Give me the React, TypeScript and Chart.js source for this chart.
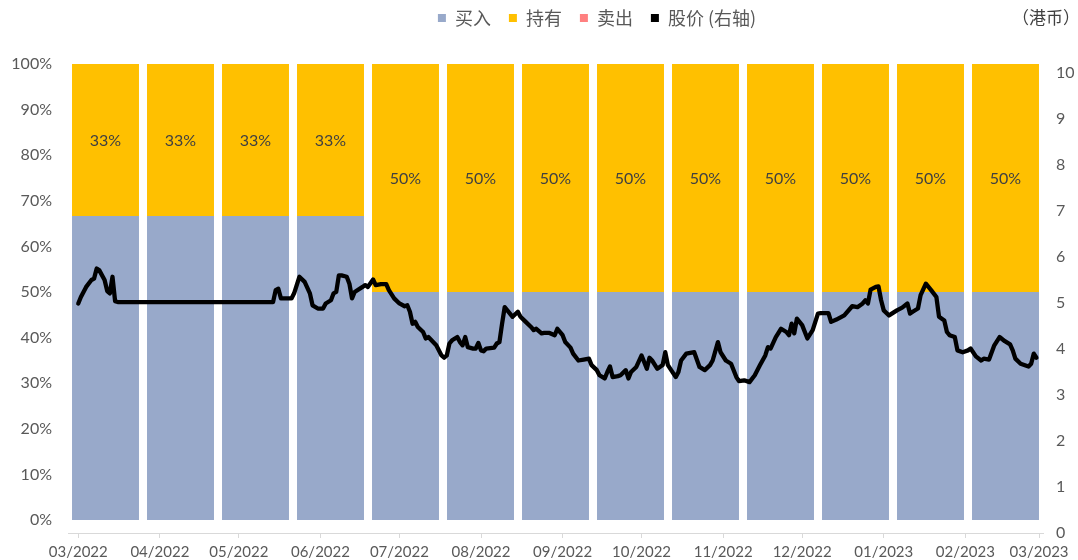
import React, { useEffect, useRef } from 'react';
import { Chart, registerables } from 'chart.js';

Chart.register(...registerables);

// ---- data ----
const barCategories = ['03/2022', '04/2022', '05/2022', '06/2022', '07/2022', '08/2022', '09/2022', '10/2022', '11/2022', '12/2022', '01/2023', '02/2023', '03/2023'];
const buyPct = [66.67, 66.67, 66.67, 66.67, 50, 50, 50, 50, 50, 50, 50, 50, 50];
const holdPct = [33.33, 33.33, 33.33, 33.33, 50, 50, 50, 50, 50, 50, 50, 50, 50];
const sellPct = [0, 0, 0, 0, 0, 0, 0, 0, 0, 0, 0, 0, 0];

// days since 2022-03-01 at which the month ticks sit
const monthTickDays = [0, 31, 61, 92, 122, 153, 184, 214, 245, 275, 306, 337, 365];
const monthTickLabels = ['03/2022', '04/2022', '05/2022', '06/2022', '07/2022', '08/2022', '09/2022', '10/2022', '11/2022', '12/2022', '01/2023', '02/2023', '03/2023'];

const leftTicks = [0, 10, 20, 30, 40, 50, 60, 70, 80, 90, 100];
const rightTicks = [0, 1, 2, 3, 4, 5, 6, 7, 8, 9, 10];

// share price (HKD), days since 2022-03-01
const priceDays = [0, 1, 3, 5, 6, 7, 8, 10, 11, 12, 13, 14, 15, 74, 75, 76, 77, 81, 82, 84, 86, 88, 89, 91, 93, 94, 96, 97, 98, 99, 100, 102, 103, 104, 105, 108, 109, 110, 112, 113, 115, 117, 118, 120, 122, 124, 125, 126, 127, 128, 129, 131, 132, 133, 136, 138, 139, 140, 141, 142, 144, 145, 146, 147, 148, 150, 151, 152, 153, 154, 155, 158, 159, 160, 161, 162, 163, 165, 167, 168, 170, 172, 173, 174, 176, 177, 179, 181, 182, 184, 185, 187, 188, 190, 192, 194, 195, 197, 198, 200, 201, 202, 203, 205, 206, 208, 209, 210, 212, 214, 216, 217, 218, 220, 222, 223, 224, 227, 228, 229, 231, 234, 236, 238, 240, 241, 243, 244, 246, 248, 250, 251, 253, 255, 257, 259, 261, 262, 263, 265, 267, 269, 270, 271, 272, 273, 275, 277, 279, 281, 282, 285, 286, 288, 291, 294, 296, 298, 299, 300, 301, 303, 304, 305, 306, 308, 311, 313, 315, 316, 317, 319, 320, 322, 324, 326, 327, 329, 330, 331, 333, 334, 336, 338, 339, 341, 343, 344, 346, 348, 350, 352, 354, 355, 356, 358, 361, 362, 363, 364];
const priceValues = [4.99, 5.13, 5.35, 5.50, 5.53, 5.75, 5.71, 5.50, 5.26, 5.21, 5.57, 5.04, 5.02, 5.02, 5.28, 5.31, 5.10, 5.10, 5.21, 5.57, 5.46, 5.21, 4.95, 4.88, 4.88, 4.99, 5.06, 5.21, 5.24, 5.60, 5.60, 5.57, 5.42, 5.10, 5.24, 5.35, 5.39, 5.35, 5.51, 5.39, 5.41, 5.41, 5.28, 5.10, 4.99, 4.93, 4.95, 4.81, 4.55, 4.59, 4.48, 4.37, 4.23, 4.26, 4.08, 3.86, 3.81, 3.86, 4.12, 4.19, 4.26, 4.15, 4.08, 4.26, 4.04, 4.01, 4.01, 4.13, 3.97, 3.95, 4.01, 4.03, 4.12, 4.15, 4.55, 4.91, 4.84, 4.70, 4.81, 4.70, 4.59, 4.48, 4.41, 4.44, 4.34, 4.35, 4.35, 4.30, 4.44, 4.30, 4.15, 4.03, 3.90, 3.75, 3.77, 3.79, 3.65, 3.54, 3.43, 3.36, 3.50, 3.62, 3.39, 3.41, 3.43, 3.54, 3.36, 3.50, 3.61, 3.86, 3.57, 3.81, 3.75, 3.57, 3.65, 3.93, 3.65, 3.39, 3.50, 3.75, 3.90, 3.93, 3.61, 3.54, 3.65, 3.75, 4.15, 3.93, 3.75, 3.68, 3.39, 3.30, 3.32, 3.28, 3.43, 3.65, 3.86, 4.04, 4.01, 4.26, 4.44, 4.37, 4.30, 4.55, 4.34, 4.66, 4.52, 4.23, 4.41, 4.77, 4.78, 4.78, 4.59, 4.64, 4.73, 4.93, 4.91, 4.99, 5.06, 4.99, 5.29, 5.35, 5.36, 5.06, 4.84, 4.73, 4.84, 4.90, 4.99, 4.77, 4.81, 4.88, 5.17, 5.42, 5.28, 5.13, 4.70, 4.62, 4.37, 4.30, 4.26, 3.97, 3.93, 3.97, 4.01, 3.84, 3.75, 3.79, 3.77, 4.08, 4.26, 4.17, 4.10, 3.97, 3.79, 3.68, 3.62, 3.68, 3.90, 3.81];

const LATIN = 'Lato, "Liberation Sans", sans-serif';
const CJK = '"Noto Sans CJK SC", sans-serif';
const AXIS_COLOR = '#595959';

export default function App() {
  const canvasRef = useRef<HTMLCanvasElement | null>(null);

  useEffect(() => {
    document.body.style.margin = '0';
    const canvas = canvasRef.current;
    if (!canvas) return;

    const legendShift = {
      id: 'legendShift',
      beforeDraw(chart: any) {
        const lg = chart.legend;
        if (lg) {
          lg.left = 58;
          lg.right = 1078 + 58;
          lg.top = -9;
        }
      },
    };

    const holdLabels = {
      id: 'holdLabels',
      afterDatasetsDraw(chart: any) {
        const meta = chart.getDatasetMeta(1);
        const c = chart.ctx;
        c.save();
        c.font = `16px ${LATIN}`;
        c.fillStyle = '#404040';
        c.textAlign = 'center';
        c.textBaseline = 'middle';
        meta.data.forEach((el: any, i: number) => {
          const p = el.getProps(['x', 'y', 'base'], true);
          c.fillText(`${Math.round(holdPct[i])}%`, p.x, (p.y + p.base) / 2 + 1);
        });
        c.restore();
      },
    };

    const unitLabel = {
      id: 'unitLabel',
      afterDraw(chart: any) {
        const c = chart.ctx;
        c.save();
        c.font = `17px ${CJK}`;
        c.fillStyle = '#404040';
        c.textAlign = 'right';
        c.textBaseline = 'middle';
        c.fillText('（港币）', 1080, 18);
        c.restore();
      },
    };

    const barCommon = {
      type: 'bar', borderWidth: 0, xAxisID: 'xb', yAxisID: 'y', stack: 's',
      grouped: false, barPercentage: 0.893, categoryPercentage: 1, order: 1,
    };

    const chart = new Chart(canvas, {
      type: 'bar',
      data: {
        labels: barCategories,
        datasets: [
          { ...barCommon, label: '买入', data: buyPct, backgroundColor: '#98A9CA' } as any,
          { ...barCommon, label: '持有', data: holdPct, backgroundColor: '#FFC000' } as any,
          { ...barCommon, label: '卖出', data: sellPct, backgroundColor: '#FF8080' } as any,
          {
            type: 'line', label: '股价 (右轴)',
            data: priceDays.map((d, i) => ({ x: d, y: priceValues[i] })),
            xAxisID: 'x', yAxisID: 'y1',
            borderColor: '#000000', backgroundColor: '#000000', borderWidth: 4.3,
            pointRadius: 0, tension: 0, fill: false,
            borderJoinStyle: 'round', borderCapStyle: 'round', order: 0,
          } as any,
        ],
      },
      options: {
        animation: false,
        responsive: false,
        maintainAspectRatio: false,
        layout: { padding: { top: 18, left: 0, right: 0, bottom: 0 } },
        plugins: {
          tooltip: { enabled: false },
          legend: {
            position: 'top',
            maxHeight: 46,
            labels: {
              boxWidth: 8,
              boxHeight: 8,
              padding: 18,
              color: AXIS_COLOR,
              font: { family: CJK, size: 18 },
              sort: (a: any, b: any) => a.datasetIndex - b.datasetIndex,
              generateLabels: (ch: any) =>
                (Chart.defaults.plugins.legend.labels as any).generateLabels(ch).map((it: any) => ({ ...it, lineWidth: 0, strokeStyle: it.fillStyle })),
            },
          } as any,
        },
        scales: {
          xb: { type: 'category', display: false, stacked: true, offset: true, grid: { display: false, offset: true } },
          x: {
            type: 'linear', position: 'bottom', min: -3.9, max: 366.5, offset: false,
            afterBuildTicks: (s: any) => { s.ticks = monthTickDays.map((v) => ({ value: v })); },
            afterFit: (s: any) => { s.height = 27; },
            ticks: {
              autoSkip: false, maxRotation: 0, minRotation: 0, color: AXIS_COLOR, padding: 5,
              font: { family: LATIN, size: 15 },
              callback: (_v: any, i: number) => monthTickLabels[i] ?? '',
            },
            grid: { offset: false, drawOnChartArea: false, drawTicks: true, tickLength: 5, color: '#D9D9D9' },
            border: { display: true, color: '#D9D9D9', width: 1 },
          },
          y: {
            type: 'linear', position: 'left', stacked: true, min: -2.85, max: 100,
            afterBuildTicks: (s: any) => { s.ticks = leftTicks.map((v) => ({ value: v })); },
            afterFit: (s: any) => { s.width = 68; },
            ticks: { color: AXIS_COLOR, padding: 16, font: { family: LATIN, size: 16 }, callback: (v: any) => `${v}%` },
            grid: { display: false, drawTicks: false },
            border: { display: false },
          },
          y1: {
            type: 'linear', position: 'right', min: 0, max: 10.196,
            afterBuildTicks: (s: any) => { s.ticks = rightTicks.map((v) => ({ value: v })); },
            afterFit: (s: any) => { s.width = 35; },
            ticks: { color: AXIS_COLOR, padding: 13, font: { family: LATIN, size: 16 }, callback: (v: any) => `${v}` },
            grid: { display: false, drawTicks: false },
            border: { display: false },
          },
        } as any,
      },
      plugins: [legendShift, holdLabels, unitLabel],
    });

    return () => chart.destroy();
  }, []);

  return (
    <div style={{ position: 'absolute', left: 0, top: 0, width: 1078, height: 560, background: '#ffffff' }}>
      <canvas ref={canvasRef} width={1078} height={560} style={{ width: 1078, height: 560, display: 'block' }} />
    </div>
  );
}
